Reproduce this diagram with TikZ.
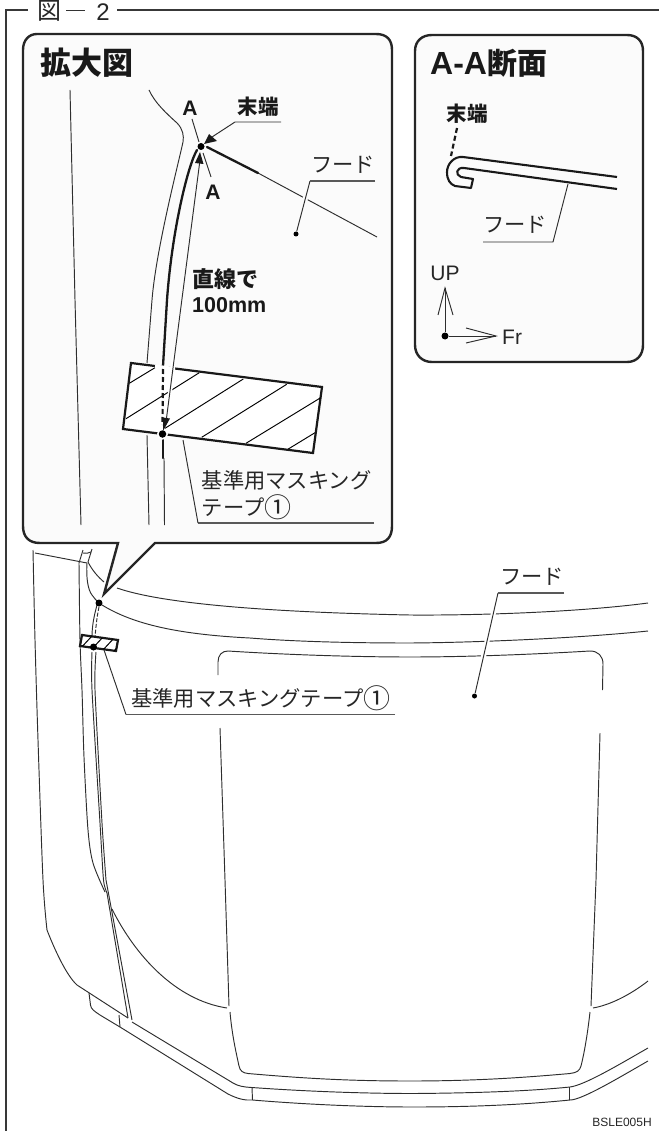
\documentclass[tikz,border=0pt]{standalone}
\usepackage{fontspec}
\setmainfont{Liberation Sans}
\newfontfamily\cjk{Noto Sans CJK JP}
\usetikzlibrary{arrows.meta}
\definecolor{panelfill}{gray}{0.985}
\newcommand{\bigone}{\raisebox{-2.2pt}{\fontsize{27}{27}\selectfont ①}}
\tikzset{
  hair/.style={line width=0.95pt,draw=black!82},
  leaderG/.style={line width=1.4pt,draw=black!65},
  thick2/.style={line width=2.3pt,draw=black!90,line cap=round},
  panel/.style={line width=2.4pt,draw=black!85,fill=panelfill},
  jp/.style={inner sep=0pt,font=\cjk\fontsize{21.3}{23}\selectfont,text=black!85,anchor=center},
  jpb/.style={inner sep=0pt,font=\cjk\bfseries\fontsize{20.5}{22}\selectfont,text=black!90,anchor=center},
  lat/.style={inner sep=0pt,font=\fontsize{21}{23}\selectfont,text=black!85,anchor=center},
  latb/.style={inner sep=0pt,font=\bfseries\fontsize{21}{23}\selectfont,text=black!90,anchor=center},
  dot/.style={circle,fill=black,inner sep=0pt,minimum size=#1},
  dot/.default=6pt
}
\begin{document}
\begin{tikzpicture}[x=1pt,y=-1pt]
\useasboundingbox (0,0) rectangle (659,1131);
% frame
\node[jp,font=\cjk\fontsize{24}{26}\selectfont] (figA) at (49,11) {図};
\node[lat,font=\fontsize{24}{26}\selectfont] (figN) at (103,12) {2};
\coordinate (frB) at (6,1131);
\coordinate (frT) at (6,10);
\coordinate (frC) at (28,10);
\coordinate (frE) at (659,10);
\coordinate (frD) at (117,10);
\draw[line width=1.3pt,draw=black!78] (frB) -- (frT) -- (frC);
\draw[line width=1.3pt,draw=black!78] (frD) -- (frE);
\draw[line width=1.4pt,draw=black!80] (66,10.5) -- (85,10.5);

% main body (under the callout)
\begin{scope}[hair]
\draw plot[smooth,tension=0.5] coordinates {(33,550) (35,640) (38,740) (43,880) (47,930)} .. controls (54,948) and (66,975) .. (77,985) -- (128,1018);
\draw (35,553) -- (87,563);
\draw plot[smooth,tension=0.5] coordinates {(79,563) (80,640) (82,690) (84,757) (88,830) (93,863) (105,892)};
\draw (83,550) -- (79,563);
\draw (92,549) -- (88,562);
\draw (83,553) .. controls (86,554) and (88,553) .. (91,552);
\draw (87,563) .. controls (86,578) and (88,590) .. (92,595) .. controls (94,598) and (96,600) .. (98,602);
\draw (88,562) .. controls (92,570) and (98,577) .. (104,582);
\draw (117,588) .. controls (160,603) and (260,612) .. (410,615) .. controls (480,615.5) and (580,612) .. (648,603);
\draw (102,605) .. controls (130,622) and (170,634) .. (250,638) .. controls (300,642) and (360,643) .. (410,643) .. controls (480,642.5) and (580,638) .. (648,631);
\draw[dash pattern=on 4pt off 1.7pt] (99,607) .. controls (97,616) and (96,626) .. (95,637);
\draw (97,605) .. controls (94,616) and (92,626) .. (92,637);
% hood outline
\draw (218,675) -- (218,662) .. controls (218,655) and (222,651) .. (228,651) .. controls (290,655) and (360,657) .. (410,657) .. controls (470,657) and (540,654) .. (590,651) .. controls (598,651) and (603,656) .. (603,664) -- (602.5,690);
\draw (220,728) -- (225,880) -- (229,1006);
\draw (600,733) -- (596,880) -- (591,1006);
\draw (230,1012) .. controls (232,1035) and (236,1052) .. (239,1066) .. controls (240,1071) and (243,1073) .. (248,1073.5) .. controls (300,1078) and (345,1081) .. (410,1081) .. controls (480,1081) and (530,1077) .. (570,1073.5) .. controls (577,1072.5) and (579.5,1071) .. (581,1066) .. controls (585,1050) and (588,1030) .. (590,1012);
% tape lines down
\draw plot[smooth,tension=0.4] coordinates {(92,652) (92,690) (100,823) (103.5,880) (107,893)} -- (128,1018);
\draw plot[smooth,tension=0.4] coordinates {(96,652) (95,690) (102,823) (106,880)} -- (132,1020);
% mid curve
\draw (112,909) .. controls (135,955) and (175,1000) .. (227,1008);
\draw (593,1008) .. controls (610,1005) and (630,995) .. (648,981);
% bumper
\draw (89,993) -- (90.5,1005) .. controls (91,1009) and (94,1011) .. (100,1015) -- (120,1027);
\draw (119,1015) -- (120,1027);
\draw (120,1027) -- (228,1094) .. controls (238,1099) and (245,1100.5) .. (252,1100);
\draw (132,1022) -- (233,1083) .. controls (238,1086) and (243,1087) .. (252,1087.5);
\draw (252,1087.5) -- (252.5,1100);
\draw (252,1087.5) .. controls (300,1091) and (360,1093.5) .. (413,1093.5) .. controls (480,1093) and (530,1091) .. (570,1087) .. controls (585,1085) and (620,1064) .. (648,1048);
\draw (252.5,1100) .. controls (300,1104) and (360,1107) .. (413,1107) .. controls (480,1107) and (530,1104) .. (570,1100) .. controls (582,1100) and (620,1077) .. (648,1061);
\draw (569,1087) -- (569,1100);
\end{scope}

% small tape
\coordinate (t1) at (82,635);
\coordinate (t2) at (118,640);
\coordinate (t3) at (116,651);
\coordinate (t4) at (80,646);
\draw[line width=2.2pt,draw=black!90,fill=white] (t1) -- (t2) -- (t3) -- (t4) -- cycle;
\begin{scope}
\clip (t1) -- (t2) -- (t3) -- (t4) -- cycle;
\foreach \x in {78,90,102,114}
  \draw[line width=1pt] (\x,651) -- (\x+14,636);
\end{scope}
\node[dot=7pt] (tapeD) at (93.5,647) {};
\node[dot=7pt] (hoodEnd) at (99,603) {};

% labels on body
\node[jp] (hoodL) at (532,577) {フード};
\coordinate (hoodK) at (498,593);
\coordinate (hoodE) at (564,593);
\node[dot=5pt] (hoodD) at (474.5,696) {};
\draw[line width=5pt,white] (hoodK) -- (hoodD);
\draw[hair] (hoodK) -- (hoodD);
\draw[leaderG] (hoodE) -- (hoodK);
\node[jp,anchor=west] (tapeL) at (131,698) {基準用マスキングテープ\bigone};
\coordinate (tapeK) at (126,714.5);
\coordinate (tapeE) at (395,714.5);
\coordinate (tapeS) at (104,650);
\draw[leaderG] (tapeE) -- (tapeK);
\draw[hair] (tapeK) -- (tapeS);
\node[lat,font=\fontsize{12}{13}\selectfont] (code) at (622,1122) {BSLE005H};

% magnifier panel
\draw[panel] (37,34) -- (376,34) .. controls (387,34) and (392,40) .. (392,50) -- (392,526) .. controls (392,537) and (387,543) .. (376,543) -- (155,543) -- (104,594) -- (118,543) -- (40,543) .. controls (29,543) and (23,537) .. (23,526) -- (23,50) .. controls (23,40) and (29,34) .. (37,34) -- cycle;
\node[jpb,font=\cjk\bfseries\fontsize{31}{33}\selectfont] (magT) at (86.5,63) {拡大図};
\begin{scope}[hair]
\draw (70,90) -- (75,300) -- (81,525);
\draw (149,90) .. controls (155,103) and (166,113) .. (177,123) .. controls (183,129) and (184,136) .. (183,142) .. controls (178,165) and (156,250) .. (152,300) -- (147,363);
\draw (147,435) -- (149,525);
\draw (258,173) -- (377,237);
\draw (164,458) -- (164.5,525);
\end{scope}
% thick edge
\draw[thick2] (197,150) .. controls (188,165) and (172,230) .. (167,300) -- (163,366);
\draw[thick2] (207,147) -- (258,173);
\draw[thick2] (163,440) -- (163,458);
\node[dot=7pt] (endD) at (201,146.5) {};
% big tape
\coordinate (T1) at (131,363);
\coordinate (T2) at (322,387);
\coordinate (T3) at (313,453);
\coordinate (T4) at (123,429);
\draw[line width=2.2pt,draw=black!90,fill=white] (T1) -- (T2) -- (T3) -- (T4) -- cycle;
\begin{scope}[line width=0.95pt]
\draw (129.3,383.3) -- (155,367.7);
\draw (126,418.7) -- (199.3,372.7);
\draw (165,428.3) -- (243.3,379);
\draw (201.7,437.3) -- (286.7,384.3);
\draw (246,443.3) -- (320.7,397.7);
\draw (288.3,449) -- (315,432.7);
\end{scope}
\draw[line width=3.5pt,white] (155,366.3) -- (175,368.8);
\draw[line width=4pt,white] (174,355) -- (167,420);
\draw[line width=2.2pt,dash pattern=on 5pt off 3pt,draw=black!90] (163,369) -- (162.5,425);
\node[circle,fill=white,inner sep=0pt,minimum size=11pt] (white1) at (162.5,434) {};
\node[dot=7.5pt] (tapeC) at (162.5,434) {};
% straight line with double arrow
\draw[hair] (200,160) -- (166,422);
\fill[black!90] (200,152) -- (203.5,164) -- (195,163) -- cycle;
\fill[black!90] (163,431) -- (163,417.5) -- (170,418.5) -- cycle;
% A-A cut
\node[latb,font=\bfseries\fontsize{21}{23}\selectfont] (A1) at (190,108) {A};
\node[latb,font=\bfseries\fontsize{21}{23}\selectfont] (A2) at (213,192) {A};
\coordinate (a1) at (192,119);\coordinate (a1e) at (199,142);
\coordinate (a2) at (203,153);\coordinate (a2e) at (211,177);
\draw[hair] (a1) -- (a1e);
\draw[hair] (a2) -- (a2e);
% end label
\node[jpb] (endL) at (258,107) {末端};
\coordinate (endK) at (235,122);
\coordinate (endE) at (281,122);
\coordinate (endA) at (204,144);
\draw[hair] (endE) -- (endK) -- (212,137);
\fill[black!90] (endA) -- (209,134) -- (217,141) -- cycle;
% hood label panel
\node[jp] (hood2) at (343,165) {フード};
\coordinate (h2K) at (310,181);
\coordinate (h2E) at (375,181);
\node[dot=5pt] (h2D) at (296,234) {};
\draw[line width=5pt,panelfill] (h2K) -- (h2D);
\draw[hair] (h2K) -- (h2D);
\draw[leaderG] (h2E) -- (h2K);
% straight text
\node[jpb,font=\cjk\bfseries\fontsize{22}{24}\selectfont,anchor=west] (str) at (192,279) {直線で};
\node[latb,font=\bfseries\fontsize{21.5}{23}\selectfont,anchor=west] (mm) at (192,305) {100mm};
% tape leader
\node[jp,anchor=west] (tapeM1) at (201.5,480) {基準用マスキング};
\node[jp,anchor=west] (tapeM2) at (201.5,507) {テープ\bigone};
\coordinate (lK) at (198,523);
\coordinate (lE) at (374,523);
\coordinate (lS) at (183,440);
\draw[leaderG,line width=1.1pt] (lE) -- (lK);
\draw[hair] (lK) -- (lS);

% A-A panel
\draw[panel] (432,35) -- (627,35) .. controls (637,35) and (643,41) .. (643,51) -- (643,345) .. controls (643,355) and (637,362) .. (627,362) -- (432,362) .. controls (422,362) and (415,355) .. (415,345) -- (415,51) .. controls (415,41) and (422,35) .. (432,35) -- cycle;
\node[latb,font=\bfseries\fontsize{32}{34}\selectfont,anchor=west] (aaT) at (430,63) {A-A\cjk\fontsize{30}{32}\selectfont 断面};
\node[jpb] (sEnd) at (467,114) {末端};
\draw[line width=2.2pt,draw=black!90,dash pattern=on 5pt off 3pt] (457,128) -- (451,156);
\coordinate (s1) at (617,177);
\coordinate (s2) at (617,189);
\draw[line width=2.1pt,draw=black!90,line join=round] (s1) -- (463,157) .. controls (454,156) and (447,164) .. (447,172) .. controls (447,180) and (450,184) .. (455,186) -- (471,188) -- (473,179) -- (461,177) .. controls (455,175) and (456,167) .. (464,168) -- (s2);
\node[jp] (sHood) at (515,225) {フード};
\coordinate (sK) at (553,242);
\coordinate (sL) at (483,242);
\coordinate (sT) at (568,184);
\draw[hair] (sL) -- (sK) -- (sT);
\node[lat] (up) at (445,273) {UP};
\node[lat,anchor=west] (fr) at (502,337) {Fr};
\node[dot=7pt] (org) at (445,336) {};
\coordinate (upT) at (445,288);
\coordinate (frT2) at (496,336);
\draw[hair] (org) -- (upT);
\draw[hair] (org) -- (frT2);
\draw[hair] (438,315) -- (upT) -- (453,315);
\draw[hair] (466,328) -- (frT2) -- (466,343);
\end{tikzpicture}
\end{document}
